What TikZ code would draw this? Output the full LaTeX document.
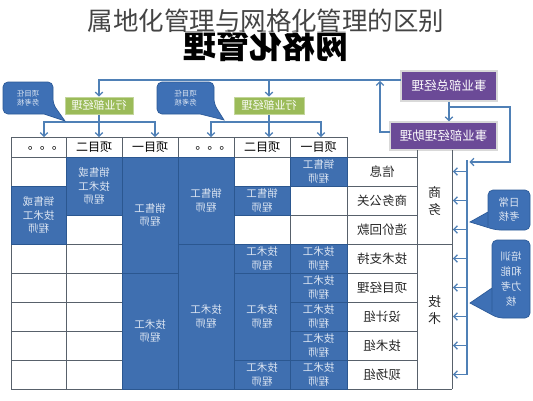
\documentclass[tikz,border=0pt]{standalone}
\usepackage{fontspec}
\setmainfont{Noto Sans CJK SC}
\usetikzlibrary{arrows.meta}
\definecolor{cellblue}{HTML}{3F6FB0}
\definecolor{cellline}{HTML}{2B5790}
\definecolor{celltxt}{HTML}{DCE5F2}
\definecolor{gridc}{HTML}{58616B}
\definecolor{arrc}{HTML}{4F80B6}
\definecolor{purp}{HTML}{6B4A97}
\definecolor{grn}{HTML}{9BBB59}
\definecolor{callc}{HTML}{3E70B5}
\definecolor{callline}{HTML}{2C5A98}
\definecolor{titlec}{HTML}{444444}
\begin{document}
\begin{tikzpicture}[x=1pt,y=-1pt,
  mir/.style={xscale=-1},
  arr/.style={draw=arrc, line width=1.3pt, -{Straight Barb[length=3.5pt,width=7.5pt,line width=1.3pt]}},
  ln/.style={draw=arrc, line width=1.3pt},
  gridl/.style={draw=gridc, line width=0.8pt},
  bluecell/.style={fill=cellblue, draw=cellline, line width=0.7pt},
  ctext/.style={mir, text=celltxt, font=\fontsize{10.5}{13.5}\selectfont, align=center, inner sep=0pt},
  hdr/.style={mir, font=\fontsize{12}{14}\selectfont, text=black, inner sep=0pt},
  cat/.style={mir, font=\fontsize{12.5}{17}\selectfont, text=black!85, inner sep=0pt, align=center},
  purpbox/.style={mir, fill=purp, draw=black!15, line width=1.5pt, text=white, font=\fontsize{12.5}{15}\selectfont, inner sep=0pt},
  grnbox/.style={mir, fill=grn, draw=grn!60, line width=1pt, text=white, font=\fontsize{11}{13}\selectfont, inner sep=0pt},
  callshape/.style={fill=callc, draw=callline, line width=0.7pt},
  calltext/.style={mir, text=celltxt, align=center, inner sep=0pt}
]
\fill[white] (0,0) rectangle (533,400);
\useasboundingbox (0,0) rectangle (533,400);

% titles
\node[mir, font=\fontsize{33}{35}\selectfont\bfseries] (big) at (266,46) {网格化管理};
\node[fill=white, fill opacity=0.6, text opacity=1, text=titlec, font=\fontsize{25.5}{27}\selectfont, inner xsep=2pt, inner ysep=0pt] (title) at (266,21) {属地化管理与网格化管理的区别};

% manager boxes
\node[purpbox, minimum width=96, minimum height=30] (gm) at (449,86) {事业部总经理};
\node[purpbox, minimum width=107, minimum height=28] (am) at (443.5,136) {事业部经理助理};
\node[grnbox, minimum width=68, minimum height=17] (g1) at (99,105.5) {行业部经理};
\node[grnbox, minimum width=70, minimum height=17] (g2) at (269,105.5) {行业部经理};

% table grid
\draw[gridl] (11,137) rectangle (347,157);
\foreach \x in {66,122,178,234,290} \draw[gridl] (\x,137) -- (\x,157);
\foreach \y in {157,186,215,244,273,302,331,360} \draw[gridl] (11,\y) -- (417,\y);
\draw[gridl] (11,389) -- (452,389);
\foreach \x in {11,66,122,178,234,290,347} \draw[gridl] (\x,157) -- (\x,389);
\draw[gridl] (417,150) -- (417,389);
\draw[gridl] (452,150) -- (452,389);
\draw[gridl] (417,244) -- (452,244);

% header texts
\node[hdr] (h1) at (38.5,148) {。。。};
\node[hdr] (h2) at (94,147) {项目二};
\node[hdr] (h3) at (150,147) {项目一};
\node[hdr] (h4) at (206,148) {。。。};
\node[hdr] (h5) at (262,147) {项目二};
\node[hdr] (h6) at (318.5,147) {项目一};

% blue cells
\newcommand\bcell[6]{\path[bluecell] (#1,#2) rectangle (#3,#4);
  \node[ctext] (#6) at ({(#1+#3)/2},{(#2+#4)/2}) {#5};}
\bcell{11}{186}{66}{244}{销售或\\技术工\\程师}{a1}
\bcell{66}{157}{122}{215}{销售或\\技术工\\程师}{b1}
\bcell{122}{157}{178}{273}{销售工\\程师}{c1}
\bcell{122}{273}{178}{389}{技术工\\程师}{c2}
\bcell{178}{157}{234}{244}{销售工\\程师}{d1}
\bcell{178}{244}{234}{389}{技术工\\程师}{d2}
\bcell{234}{186}{290}{215}{销售工\\程师}{e1}
\bcell{234}{244}{290}{273}{技术工\\程师}{e2}
\bcell{234}{273}{290}{360}{技术工\\程师}{e3}
\bcell{234}{360}{290}{389}{技术工\\程师}{e4}
\bcell{290}{157}{347}{186}{销售工\\程师}{f1}
\bcell{290}{244}{347}{273}{技术工\\程师}{f2}
\bcell{290}{273}{347}{302}{技术工\\程师}{f3}
\bcell{290}{302}{347}{331}{技术工\\程师}{f4}
\bcell{290}{331}{347}{360}{技术工\\程师}{f5}
\bcell{290}{360}{347}{389}{技术工\\程师}{f6}

% categories
\node[cat] (k1) at (382,171.5) {信息};
\node[cat] (k2) at (382,200.5) {商务公关};
\node[cat] (k3) at (382,229.5) {造价回款};
\node[cat] (k4) at (382,258.5) {技术支持};
\node[cat] (k5) at (382,287.5) {项目经理};
\node[cat] (k6) at (382,316.5) {设计组};
\node[cat] (k7) at (382,345.5) {技术组};
\node[cat] (k8) at (382,374.5) {现场组};
\node[cat, font=\fontsize{13}{17}\selectfont] (sw) at (434.5,201) {商\\务};
\node[cat, font=\fontsize{13}{17}\selectfont] (js) at (434.5,310) {技\\术};

% connectors top
\coordinate (tl) at (401,80);
\coordinate (j2) at (269,80);
\draw[arr] (tl) -| (g1.north);
\draw[arr] (j2) -- (g2.north);
\coordinate (ta1) at (44,137);
\coordinate (ta2) at (99,137);
\coordinate (ta3) at (155,137);
\coordinate (tb1) at (211,137);
\coordinate (tb2) at (269,137);
\coordinate (tb3) at (321,137);
\coordinate (ka) at (99,122);
\coordinate (kb) at (269,122);
\draw[ln] (g1.south) -- (ka);
\draw[arr] (ka) -| (ta1);
\draw[arr] (ka) -| (ta3);
\draw[arr] (ka) -- (ta2);
\draw[ln] (g2.south) -- (kb);
\draw[arr] (kb) -| (tb1);
\draw[arr] (kb) -| (tb3);
\draw[arr] (kb) -- (tb2);

% manager connectors
\draw[arr] (gm.south) -- (gm.south |- am.north);
\coordinate (gb) at (449,107);
\coordinate (r1) at (510,107);
\coordinate (r2) at (510,162);
\coordinate (st) at (469.5,162);
\draw[arr] (gb) -- (r1) -- (r2) -- (st);
\coordinate (b2l) at (390,132);
\coordinate (up) at (380,81);
\draw[arr] (b2l) -- (380,132) -- (up);

% bracket
\draw[ln] (467,160) -- (467,374.5);
\foreach \y in {171.5,200.5,229.5,258.5,287.5,316.5,345.5,374.5}
  \draw[arr] (467,\y) -- (453,\y);

% callouts
\filldraw[callshape, rounded corners=5pt] (44,114) -- (3,114) -- (3,82) -- (53,82) -- (53,104) [sharp corners] -- (65,121) -- cycle;
\node[calltext, font=\fontsize{7.5}{9.5}\selectfont] (q1) at (28,98) {项目任\\务考核};
\filldraw[callshape, rounded corners=5pt] (200,114) -- (157,114) -- (157,82) -- (214,82) -- (214,104) [sharp corners] -- (224,120) -- cycle;
\node[calltext, font=\fontsize{7.5}{9.5}\selectfont] (q2) at (185.5,98) {项目任\\务考核};
\filldraw[callshape, rounded corners=5pt] (488,226) -- (488,190) -- (530,190) -- (530,230) -- (496,230) [sharp corners] -- (470,222) -- (488,212) -- cycle;
\node[calltext, font=\fontsize{10.5}{14}\selectfont] (q3) at (509,210) {日常\\考核};
\filldraw[callshape, rounded corners=5pt] (492,312) -- (492,240) -- (530,240) -- (530,318) -- (498,318) [sharp corners] -- (470,303) -- (492,288) -- cycle;
\node[calltext, font=\fontsize{10.5}{15}\selectfont] (q4) at (511,279) {培训\\和能\\力考\\核};
\end{tikzpicture}
\end{document}
